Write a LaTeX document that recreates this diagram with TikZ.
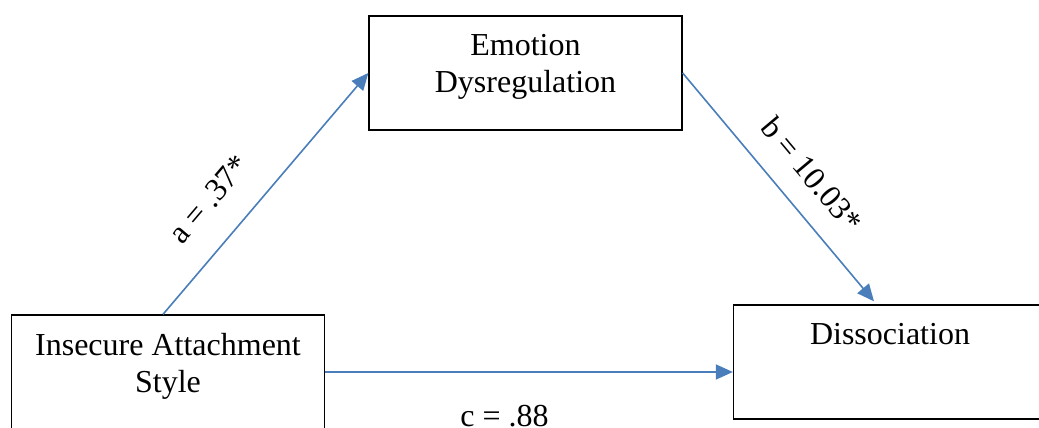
\documentclass[tikz,border=0pt]{standalone}
\usepackage{fontspec}
\setmainfont{Liberation Serif}
\usetikzlibrary{arrows.meta,positioning}
\definecolor{PathBlue}{HTML}{4A7EBB}

\begin{document}
\begin{tikzpicture}[x=1pt,y=1pt,
  box/.style={draw,line width=0.65pt,minimum width=156.5pt,minimum height=57pt,inner sep=0pt},
  boxtext/.style={align=center,inner sep=0pt,font=\fontsize{16}{18.5}\selectfont},
  effect/.style={PathBlue,line width=0.8pt,-{Triangle[length=8.5pt,width=7.5pt]}},
  coef/.style={text=black,inner sep=0pt,font=\fontsize{16}{18.5}\selectfont}]
  \useasboundingbox (0,0) rectangle (519.5,214);
  % the three variables
  \node[box] (emo) at (262.75,177.5) {};
  \node[box] (ins) at (84,28) {};
  \node[box] (dis) at (445,33) {};
  \node[boxtext,below=9.5pt of emo.north] (emotxt) {Emotion\\Dysregulation};
  \node[boxtext,below=9.5pt of ins.north] (instxt) {Insecure Attachment\\Style};
  \node[boxtext,below=9.5pt of dis.north] (distxt) {Dissociation};
  % paths
  \draw[effect] ([xshift=-2.5pt]ins.north) -- (emo.west)
    node[coef,sloped,pos=0.37,above=14pt] {a = .37*};
  \draw[effect] (emo.east) -- ([xshift=-8pt,yshift=1.5pt]dis.north)
    node[coef,sloped,pos=0.54,above=11pt] {b = 10.03*};
  \draw[effect] (ins.east) -- (ins.east -| dis.west)
    node[coef,pos=0.44,below=16pt] {c = .88};
\end{tikzpicture}
\end{document}
